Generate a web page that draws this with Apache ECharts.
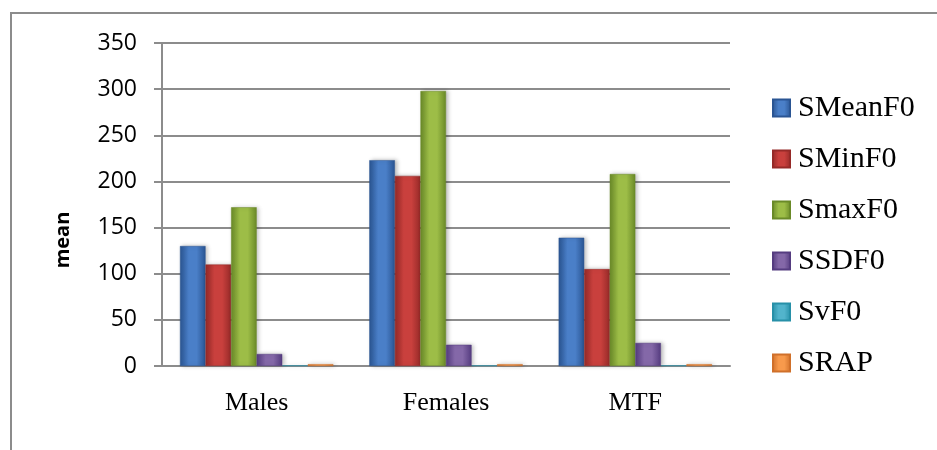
<!DOCTYPE html>
<html>
<head>
<meta charset="utf-8">
<script src="https://cdn.jsdelivr.net/npm/echarts@6/dist/echarts.min.js"></script>
<style>
  html, body { margin: 0; padding: 0; background: #fff; }
  #chart { width: 937px; height: 450px; }
</style>
</head>
<body>
<div id="chart"></div>
<script>
// Groups along the x axis
const categories = ['Males', 'Females', 'MTF'];

// Mean value of each measure per group
const sMeanF0 = [130, 223, 139];
const sMinF0  = [110, 206, 105];
const sMaxF0  = [172, 298, 208];
const sSDF0   = [13, 23, 25];
const sVF0    = [0.6, 0.6, 0.6];
const sRAP    = [2, 2, 2];

// Value axis ticks
const yTicks = [0, 50, 100, 150, 200, 250, 300, 350];

const seriesDefs = [
  { name: 'SMeanF0', data: sMeanF0, edge: '#2a5593', mid: '#4a7fc8' },
  { name: 'SMinF0',  data: sMinF0,  edge: '#962a28', mid: '#c9403d' },
  { name: 'SmaxF0',  data: sMaxF0,  edge: '#6a8a28', mid: '#9dbd47' },
  { name: 'SSDF0',   data: sSDF0,   edge: '#553c80', mid: '#8468a8' },
  { name: 'SvF0',    data: sVF0,    edge: '#2790a8', mid: '#52b4cc' },
  { name: 'SRAP',    data: sRAP,    edge: '#d0702a', mid: '#f89a4c' }
];

function shade(edge, mid) {
  return new echarts.graphic.LinearGradient(0, 0, 1, 0, [
    { offset: 0, color: edge },
    { offset: 0.35, color: mid },
    { offset: 0.65, color: mid },
    { offset: 1, color: edge }
  ]);
}

const chart = echarts.init(document.getElementById('chart'), null, { renderer: 'canvas' });

chart.setOption({
  animation: false,
  backgroundColor: '#ffffff',
  graphic: [
    {
      type: 'polyline',
      shape: { points: [[11, 450], [11, 13], [937, 13]] },
      style: { stroke: '#8c8c8c', lineWidth: 2, fill: null }
    },
    {
      type: 'text',
      x: 63, y: 240,
      rotation: Math.PI / 2,
      style: {
        text: 'mean',
        font: 'bold 20px "Open Sans", "Liberation Sans", sans-serif',
        fill: '#000',
        align: 'center',
        verticalAlign: 'middle'
      }
    }
  ],
  grid: { left: 162, right: 207, top: 43, bottom: 84, containLabel: false },
  legend: {
    orient: 'vertical',
    left: 772,
    top: 93,
    padding: 0,
    itemWidth: 17,
    itemHeight: 17,
    itemGap: 21,
    icon: 'rect',
    textStyle: {
      fontFamily: '"Liberation Serif", "Times New Roman", serif',
      fontSize: 30,
      color: '#000',
      padding: [0, 0, 0, 3]
    },
    data: seriesDefs.map(s => s.name)
  },
  xAxis: {
    type: 'category',
    data: categories,
    axisLine: { show: true, lineStyle: { color: '#8c8c8c', width: 2 } },
    axisTick: { show: false },
    axisLabel: {
      margin: 24,
      fontFamily: '"Liberation Serif", "Times New Roman", serif',
      fontSize: 26,
      color: '#000'
    }
  },
  yAxis: {
    type: 'value',
    min: yTicks[0],
    max: yTicks[yTicks.length - 1],
    interval: yTicks[1] - yTicks[0],
    axisLine: { show: true, lineStyle: { color: '#8c8c8c', width: 2 } },
    axisTick: { show: true, length: 8, lineStyle: { color: '#8c8c8c', width: 2 } },
    splitLine: { show: true, lineStyle: { color: '#8c8c8c', width: 2 } },
    axisLabel: {
      margin: 25,
      fontFamily: '"Open Sans", "Liberation Sans", sans-serif',
      fontSize: 23,
      color: '#000'
    }
  },
  series: seriesDefs.map(s => ({
    name: s.name,
    type: 'bar',
    data: s.data,
    barGap: '0%',
    barCategoryGap: '19%',
    itemStyle: {
      color: shade(s.edge, s.mid),
      borderColor: s.edge,
      borderWidth: 0.5,
      shadowColor: 'rgba(0,0,0,0.25)',
      shadowBlur: 4,
      shadowOffsetX: 2
    }
  }))
});
</script>
</body>
</html>
